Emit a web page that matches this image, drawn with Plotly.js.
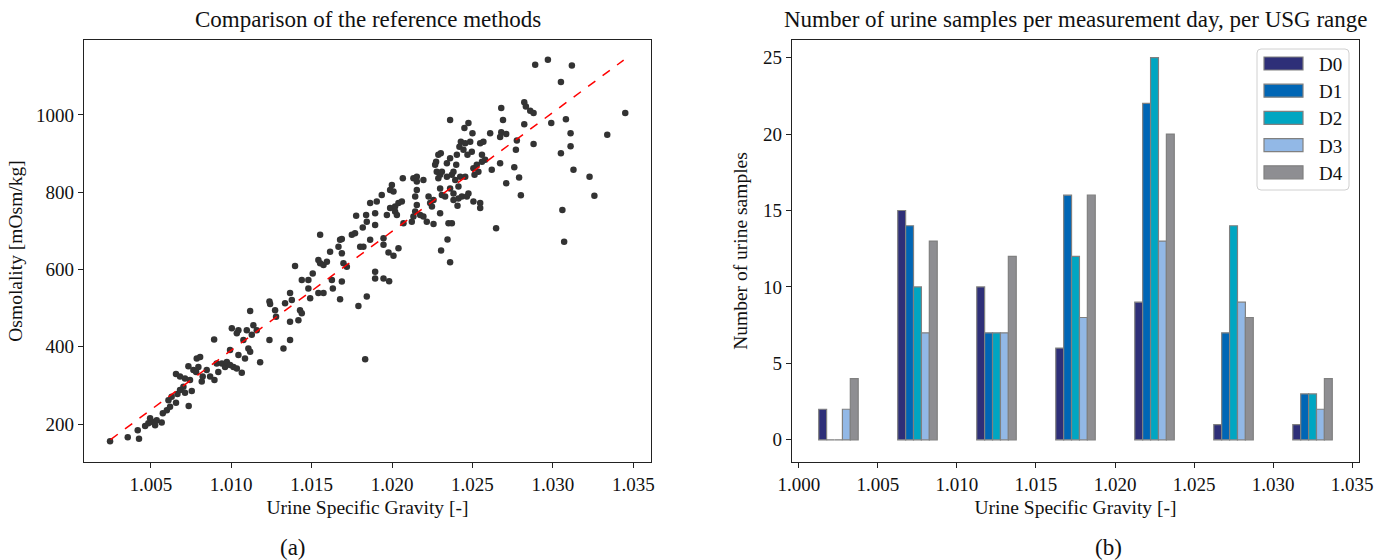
<!DOCTYPE html>
<html>
<head>
<meta charset="utf-8">
<script src="https://cdn.plot.ly/plotly-3.0.1.min.js"></script>
<style>html,body{margin:0;padding:0;background:#fff;}#chart{width:1374px;height:560px;}</style>
</head>
<body>
<div id="chart"></div>
<script>
// ---- Panel (a): scatter data ----
const usgX = [
1.00247,1.00357,1.00427,1.00419,1.00465,1.00485,1.00506,1.00527,1.00496,1.00537,1.00568,1.00575,1.00600,1.00620,1.00610,1.00630,1.00657,1.00666,1.00682,1.00713,
1.00703,1.00736,1.00755,1.00744,1.00657,1.00682,1.00713,1.00734,1.00765,1.00786,1.00807,1.00796,1.00782,1.00817,1.00823,1.00848,1.00869,1.00896,1.00894,1.00910,
1.00920,1.00942,1.00962,1.00973,1.00993,1.01014,1.01035,1.01066,1.00993,1.01004,1.01045,1.01035,1.01045,1.01076,1.01086,1.01097,1.01107,1.01118,1.01118,1.01128,
1.01138,1.01159,1.01180,1.01238,1.01242,1.01238,1.01273,1.01279,1.01325,1.01335,1.01366,1.01377,1.01366,1.01366,1.01418,1.01428,1.01439,1.01397,1.01439,1.01480,
1.01480,1.01491,1.01507,1.01542,1.01542,1.01553,1.01574,1.01574,1.01595,1.01615,1.01626,1.01632,1.01667,1.01677,1.01688,1.01698,1.01677,1.01688,1.01719,1.01750,
1.01770,1.01791,1.01802,1.01822,1.01833,1.01843,1.01553,1.01777,1.01839,1.01843,1.01818,1.01688,
1.02890,1.02969,1.03118,1.03050,1.03450,1.02822,1.02832,1.02859,1.02880,1.02679,1.02690,1.02361,1.02475,1.02450,1.02500,1.02610,1.02679,1.02672,1.02710,1.02822,
1.02990,1.03081,1.03110,1.02880,1.03110,1.03050,1.03338,1.02776,1.02770,1.02428,1.02419,1.02455,1.02486,1.02444,1.02496,1.02548,1.02568,1.02469,1.02559,1.02579,
1.02303,1.02288,1.02274,1.02268,1.02361,1.02403,1.02341,1.02399,1.02527,1.02506,1.02559,1.02620,1.02672,1.02760,1.02790,1.02710,1.02801,1.03128,1.03228,1.03258,
1.03059,1.02278,1.02299,1.02310,1.02288,1.02341,1.02372,1.02382,1.02393,1.02424,1.02455,1.02513,1.02537,1.02067,1.02133,1.02154,1.02195,1.01999,1.01988,1.02009,
1.01936,1.01905,1.01864,1.01895,1.01968,1.01988,1.02019,1.02040,1.02061,1.02019,1.02030,1.02071,1.02123,1.02133,1.02144,1.02154,1.02175,1.02195,1.02144,1.02154,
1.02154,1.02227,1.02237,1.02258,1.02248,1.02216,1.02258,1.02299,1.02299,1.02310,1.02330,1.02361,1.02413,1.02382,1.02413,1.02382,1.02434,1.02465,1.02475,1.02407,
1.02506,1.02548,1.02548,1.02351,1.02372,1.02647,1.02345,1.01895,1.01947,
1.01864,1.01947,1.01978,1.02009,1.02040,1.01895,1.01895,1.01947,1.01982,1.02305,1.02361,1.03070
];
const osmY = [
156,166,162,184,195,202,206,197,215,210,204,228,236,245,262,271,255,278,288,281,
297,247,286,314,330,323,318,350,340,370,374,348,335,310,323,340,323,314,419,357,
335,357,348,361,353,348,344,333,392,448,443,435,379,418,370,443,396,493,387,431,
456,443,360,517,511,418,495,478,396,513,539,521,465,418,469,495,487,609,573,573,
551,526,590,539,625,616,612,539,620,646,573,551,659,677,642,616,523,569,607,690,
694,506,659,659,368,530,690,739,741,724,709,679,
1130,1143,1128,1085,1005,1033,1022,1011,1005,1018,987,987,979,966,953,953,955,943,951,976,
979,989,953,925,919,901,949,934,910,931,918,927,931,910,905,927,931,897,897,884,
901,897,879,871,888,897,875,871,871,862,879,858,875,865,838,823,792,858,840,791,
754,853,845,853,836,840,845,853,832,840,840,845,853,836,836,840,832,819,806,802,
793,776,772,746,741,759,763,772,776,750,741,720,724,737,750,767,741,737,789,806,
828,789,772,780,763,724,718,746,810,793,789,810,815,797,784,780,789,789,797,765,
776,772,759,720,720,707,678,715,681,
677,664,644,636,655,594,577,577,570,649,619,672
];
const fitX = [1.0025, 1.0344];
const fitY = [160, 1142];

// ---- Panel (b): grouped bars ----
const binCenters = [1.0025, 1.0075, 1.0125, 1.0175, 1.0225, 1.0275, 1.0325];
const dayNames = ['D0', 'D1', 'D2', 'D3', 'D4'];
const D0 = [2, 15, 10, 6, 9, 1, 1];
const D1 = [0, 14, 7, 16, 22, 7, 3];
const D2 = [0, 10, 7, 12, 25, 14, 3];
const D3 = [2, 7, 7, 8, 13, 9, 2];
const D4 = [4, 13, 12, 16, 20, 8, 4];
const dayColors = ['#2e2f78', '#0066b5', '#00a6c2', '#92b8e6', '#8e8e92'];

const xTicksA = [1.005, 1.010, 1.015, 1.020, 1.025, 1.030, 1.035];
const yTicksA = [200, 400, 600, 800, 1000];
const xTicksB = [1.000, 1.005, 1.010, 1.015, 1.020, 1.025, 1.030, 1.035];
const yTicksB = [0, 5, 10, 15, 20, 25];

const FONT = 'Liberation Serif, Times New Roman, serif';
const INK = '#111';
const W = 1374, H = 560;
const px = v => v / W;          // pixel -> paper x
const py = v => (H - v) / H;    // pixel -> paper y

const traces = [
  {type: 'scatter', mode: 'markers', x: usgX, y: osmY, xaxis: 'x', yaxis: 'y',
   marker: {color: '#333333', size: 6.5}, showlegend: false, hoverinfo: 'x+y'},
  {type: 'scatter', mode: 'lines', x: fitX, y: fitY, xaxis: 'x', yaxis: 'y',
   line: {color: '#ff0000', dash: 'dash', width: 1.5}, showlegend: false}
];
[D0, D1, D2, D3, D4].forEach((vals, i) => {
  traces.push({type: 'bar', x: binCenters, y: vals, name: dayNames[i], xaxis: 'x2', yaxis: 'y2',
    showlegend: false,
    marker: {color: dayColors[i], line: {color: '#808080', width: 1.2}}});
});

function axisCommon(extra) {
  return Object.assign({
    showline: true, mirror: true, linecolor: '#222', linewidth: 1.2,
    ticks: 'outside', ticklen: 5, tickwidth: 1, tickcolor: '#222',
    showgrid: false, zeroline: false,
    tickfont: {family: FONT, size: 19, color: INK}
  }, extra);
}
const axTitleFont = {family: FONT, size: 19.5, color: INK};

// ---- legend drawn as a framed box (matplotlib style) ----
const shapes = [{
  type: 'path', xref: 'paper', yref: 'paper', layer: 'above',
  path: (() => {
    const x0 = px(1257), x1 = px(1349), y0 = py(49), y1 = py(190), rx = px(4), ry = 4 / H;
    return `M${x0 + rx},${y0} L${x1 - rx},${y0} Q${x1},${y0} ${x1},${y0 - ry} L${x1},${y1 + ry} ` +
           `Q${x1},${y1} ${x1 - rx},${y1} L${x0 + rx},${y1} Q${x0},${y1} ${x0},${y1 + ry} ` +
           `L${x0},${y0 - ry} Q${x0},${y0} ${x0 + rx},${y0} Z`;
  })(),
  fillcolor: 'rgba(255,255,255,0.85)', line: {color: '#d0d0d0', width: 1}
}];
const legendAnn = [];
dayNames.forEach((name, i) => {
  const cy = 63.5 + i * 27.2;
  shapes.push({type: 'rect', xref: 'paper', yref: 'paper', layer: 'above',
    x0: px(1264), x1: px(1303), y0: py(cy + 6.5), y1: py(cy - 6.5),
    fillcolor: dayColors[i], line: {color: '#808080', width: 1.2}});
  legendAnn.push({text: name, xref: 'paper', yref: 'paper', x: px(1317), y: py(cy + 1),
    xanchor: 'left', yanchor: 'middle', showarrow: false,
    font: {family: FONT, size: 19, color: INK}});
});

const yDom = [98/560, 520/560];
const layout = {
  width: W, height: H,
  margin: {l: 0, r: 0, t: 0, b: 0},
  paper_bgcolor: '#fff', plot_bgcolor: '#fff',
  font: {family: FONT, color: INK},
  showlegend: false,
  barmode: 'group', bargap: 0.5, bargroupgap: 0,
  xaxis: axisCommon({domain: [84/W, 651/W], range: [1.00085, 1.0361], anchor: 'y',
    tickvals: xTicksA, ticktext: xTicksA.map(v => v.toFixed(3)),
    title: {text: 'Urine Specific Gravity [-]', font: axTitleFont, standoff: 6}}),
  yaxis: axisCommon({domain: yDom, range: [102, 1194], anchor: 'x',
    tickvals: yTicksA, ticktext: yTicksA.map(String),
    title: {text: 'Osmolality [mOsm/kg]', font: axTitleFont, standoff: 8}}),
  xaxis2: axisCommon({domain: [792/W, 1359/W], range: [0.99956, 1.03544], anchor: 'y2',
    tickvals: xTicksB, ticktext: xTicksB.map(v => v.toFixed(3)),
    title: {text: 'Urine Specific Gravity [-]', font: axTitleFont, standoff: 6}}),
  yaxis2: axisCommon({domain: yDom, range: [-1.45, 26.15], anchor: 'x2',
    tickvals: yTicksB, ticktext: yTicksB.map(String),
    title: {text: 'Number of urine samples', font: axTitleFont, standoff: 10}}),
  shapes: shapes,
  annotations: [
    {text: 'Comparison of the reference methods', xref: 'paper', yref: 'paper',
     x: px(367.5), y: py(20), xanchor: 'center', yanchor: 'middle', showarrow: false,
     font: {family: FONT, size: 23, color: INK}},
    {text: 'Number of urine samples per measurement day, per USG range', xref: 'paper', yref: 'paper',
     x: px(1075.5), y: py(20), xanchor: 'center', yanchor: 'middle', showarrow: false,
     font: {family: FONT, size: 23, color: INK}},
    {text: '(a)', xref: 'paper', yref: 'paper', x: px(293), y: py(547),
     xanchor: 'center', yanchor: 'middle', showarrow: false, font: {family: FONT, size: 23, color: INK}},
    {text: '(b)', xref: 'paper', yref: 'paper', x: px(1108), y: py(547),
     xanchor: 'center', yanchor: 'middle', showarrow: false, font: {family: FONT, size: 23, color: INK}}
  ].concat(legendAnn)
};

Plotly.newPlot('chart', traces, layout, {staticPlot: true, displayModeBar: false});
</script>
</body>
</html>
